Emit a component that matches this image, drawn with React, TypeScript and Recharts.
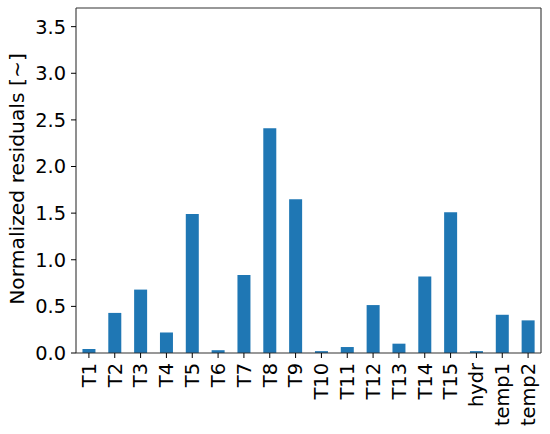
import React from 'react';
import { BarChart, Bar, XAxis, YAxis, Label } from 'recharts';

const categories = ['T1','T2','T3','T4','T5','T6','T7','T8','T9','T10','T11','T12','T13','T14','T15','hydr','temp1','temp2'];
const residuals = [0.043, 0.43, 0.68, 0.22, 1.49, 0.03, 0.836, 2.41, 1.65, 0.02, 0.064, 0.514, 0.10, 0.82, 1.51, 0.02, 0.41, 0.35];
const yTicks = [0, 0.5, 1.0, 1.5, 2.0, 2.5, 3.0, 3.5];

const data = categories.map((name, i) => ({ name, value: residuals[i] }));

const FONT = 'DejaVu Sans';
const FS = 19.4;

const XTick = (props: any) => {
  const { x, y, payload } = props;
  return (
    <text
      x={x}
      y={y}
      transform={`rotate(-90 ${x} ${y})`}
      textAnchor="end"
      dy="0.35em"
      fontFamily={FONT}
      fontSize={FS}
      fill="#000"
    >
      {payload.value}
    </text>
  );
};

export default function App() {
  return (
    <div style={{ position: 'absolute', left: 0, top: 0, background: '#fff' }}>
      <BarChart
        width={550}
        height={434}
        data={data}
        margin={{ top: 7, right: 8, bottom: 0, left: 0 }}
        barCategoryGap="25%"
      >
        <XAxis
          dataKey="name"
          interval={0}
          height={81}
          tickSize={5}
          tickMargin={5}
          tick={<XTick />}
          tickLine={{ stroke: '#000' }}
          axisLine={{ stroke: '#333', strokeWidth: 1.1 }}
        />
        <XAxis
          xAxisId="top"
          dataKey="name"
          orientation="top"
          height={1}
          tick={false}
          tickLine={false}
          axisLine={{ stroke: '#333', strokeWidth: 1.1 }}
        />
        <YAxis
          width={76}
          domain={[0, 3.7]}
          ticks={yTicks}
          tickFormatter={(v: number) => v.toFixed(1)}
          tickSize={5}
          tickMargin={5}
          allowDataOverflow
          tick={{ fontFamily: FONT, fontSize: FS, fill: '#000' }}
          tickLine={{ stroke: '#000' }}
          axisLine={{ stroke: '#333', strokeWidth: 1.1 }}
        >
          <Label
            content={() => (
              <text
                x={24}
                y={179}
                transform="rotate(-90 24 179)"
                textAnchor="middle"
                fontFamily={FONT}
                fontSize={20.3}
                fill="#000"
              >
                Normalized residuals [~]
              </text>
            )}
          />
        </YAxis>
        <YAxis
          yAxisId="right"
          orientation="right"
          width={1}
          domain={[0, 3.7]}
          tick={false}
          tickLine={false}
          axisLine={{ stroke: '#333', strokeWidth: 1.1 }}
        />
        <Bar dataKey="value" fill="#1f77b4" isAnimationActive={false} />
      </BarChart>
    </div>
  );
}
